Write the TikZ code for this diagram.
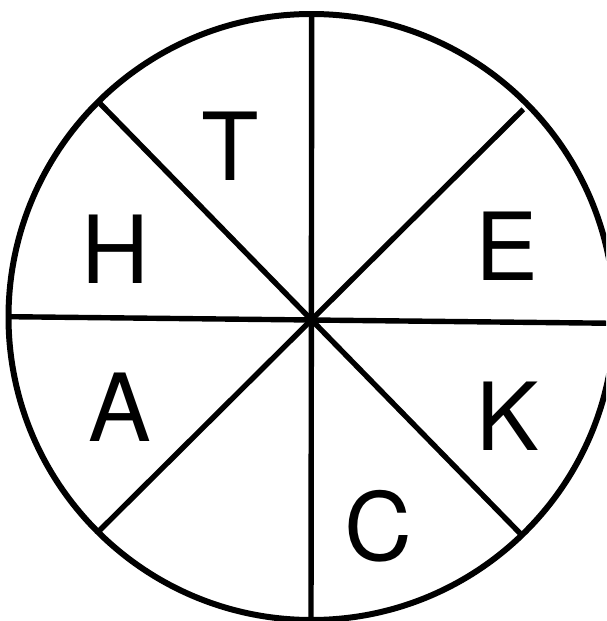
\documentclass[tikz,border=0pt]{standalone}
\usepackage{fontspec}
\setmainfont{TeX Gyre Heros}
\begin{document}
\begin{tikzpicture}[x=1pt,y=-1pt,
  rim/.style={line width=6pt, draw=black},
  spoke/.style={line width=5.4pt, draw=black, line cap=butt},
  letter/.style={inner sep=0pt, anchor=base, font=\fontsize{94}{100}\selectfont}]
\useasboundingbox (0,0) rectangle (606,621);
\fill[white] (0,0) rectangle (606,621);
\clip (0,0) rectangle (606,621);
% geometry
\coordinate (o) at (311.5,317);
\coordinate (top) at (311.7,14);
\coordinate (bot) at (311,625);
\coordinate (lft) at (10,316.7);
\coordinate (rgt) at (615,323.3);
\coordinate (ul) at (99.3,102.7);
\coordinate (lr) at (520,533.3);
\coordinate (ur) at (523.3,109.3);
\coordinate (ll) at (98.3,531.7);
% spokes
\draw[spoke] (top) -- (bot);
\draw[spoke] (lft) -- (rgt);
\draw[spoke] (ul) -- (lr);
\draw[spoke] (ur) -- (ll);
% rim
\draw[rim] (o) circle[radius=303];
% letters
\node[letter] (T) at (230.3,180) {T};
\node[letter] (H) at (115.5,283) {H};
\node[letter] (E) at (507,280) {E};
\node[letter] (A) at (120,441.7) {A};
\node[letter] (K) at (508.3,450.7) {K};
\node[letter] (C) at (378.3,560.5) {C};
\end{tikzpicture}
\end{document}
